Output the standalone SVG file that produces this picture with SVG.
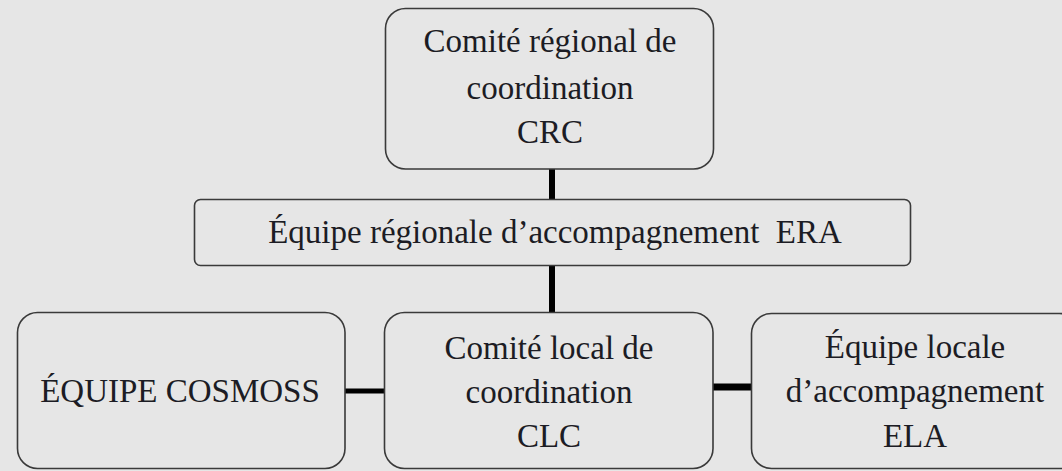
<svg xmlns="http://www.w3.org/2000/svg" width="1062" height="471" viewBox="0 0 1062 471">
  <style>
    .box { fill: #e6e6e6; stroke: #3a3a3a; stroke-width: 1.6; }
    .lbl { font-size: 33px; fill: #1c1c24; text-anchor: middle; white-space: pre; }
    .conn { stroke: #000000; fill: none; }
  </style>
  <rect x="0" y="0" width="1062" height="471" fill="#e6e6e6"/>
  <g id="connectors">
    <line class="conn" x1="552" y1="169" x2="552" y2="199" stroke-width="6"/>
    <line class="conn" x1="552" y1="265" x2="552" y2="312" stroke-width="6"/>
    <line class="conn" x1="345" y1="391" x2="385" y2="391" stroke-width="5"/>
    <line class="conn" x1="713" y1="387" x2="752" y2="387" stroke-width="7"/>
  </g>
  <g font-family="'Liberation Serif', 'DejaVu Serif', serif">
  <g id="node-crc">
    <rect class="box" x="385.5" y="8.5" width="328" height="160.5" rx="20" ry="20"/>
    <text class="lbl" x="550" y="52">Comité régional de</text>
    <text class="lbl" x="550" y="99">coordination</text>
    <text class="lbl" x="550" y="143">CRC</text>
  </g>
  <g id="node-era">
    <rect class="box" x="194.5" y="199.5" width="716" height="66" rx="6" ry="6"/>
    <text class="lbl" x="555" y="243" xml:space="preserve">Équipe régionale d’accompagnement  ERA</text>
  </g>
  <g id="node-cosmoss">
    <rect class="box" x="17.5" y="312.5" width="327.5" height="156" rx="20" ry="20"/>
    <text class="lbl" x="180" y="402">ÉQUIPE COSMOSS</text>
  </g>
  <g id="node-clc">
    <rect class="box" x="384.5" y="312.5" width="328.5" height="156" rx="20" ry="20"/>
    <text class="lbl" x="549" y="359">Comité local de</text>
    <text class="lbl" x="549" y="403">coordination</text>
    <text class="lbl" x="549" y="447">CLC</text>
  </g>
  <g id="node-ela">
    <rect class="box" x="751.5" y="313.5" width="328" height="155" rx="20" ry="20"/>
    <text class="lbl" x="915" y="358">Équipe locale</text>
    <text class="lbl" x="915" y="402">d’accompagnement</text>
    <text class="lbl" x="915" y="447">ELA</text>
  </g>
  </g>
</svg>
